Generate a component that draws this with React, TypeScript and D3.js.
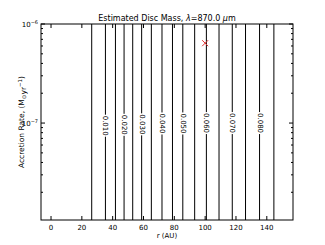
import React from "react";
import * as d3 from "d3";

const W = 325, H = 245;
const M = { left: 41, right: 293, top: 24, bottom: 220 };

// contour levels (disc mass) and their radius positions (AU)
const levels = [0.005, 0.010, 0.015, 0.020, 0.025, 0.030, 0.035, 0.040, 0.045, 0.050, 0.055, 0.060, 0.065, 0.070, 0.075, 0.080, 0.085];
const levelR = [26.4, 35.3, 41.8, 47.4, 53.0, 58.8, 65.1, 72.0, 78.8, 85.5, 93.2, 100.8, 109.0, 117.6, 126.2, 135.3, 144.6];
const labelled = [0.010, 0.020, 0.030, 0.040, 0.050, 0.060, 0.070, 0.080];
const labelRate = [0.94e-7, 0.96e-7, 0.97e-7, 0.99e-7, 0.99e-7, 1.0e-7, 1.0e-7, 1.0e-7];

const xTicks = [0, 20, 40, 60, 80, 100, 120, 140];
const yMajor = [1e-6, 1e-7];
const yMajorExp = ["−6", "−7"];

const markerR = [100];
const markerRate = [6.4e-7];

const xDomain = [-6.5, 157];
const yDomain = [1.05e-8, 1e-6];

export default function App() {
  const x = d3.scaleLinear().domain(xDomain).range([M.left, M.right]);
  const y = d3.scaleLog().domain(yDomain).range([M.bottom, M.top]);
  const font = "DejaVu Sans";
  const yMinor: number[] = [];
  for (const dec of [1e-8, 1e-7]) {
    for (let k = 2; k <= 9; k++) {
      const v = k * dec;
      if (v >= yDomain[0] && v <= yDomain[1]) yMinor.push(v);
    }
  }
  const lab = levels.map((lv, i) => {
    const li = labelled.findIndex((l) => Math.abs(l - lv) < 1e-9);
    return { lv, r: levelR[i], li };
  });
  const line = d3.line<[number, number]>().x((d) => d[0]).y((d) => d[1]);
  return (
    <svg width={W} height={H} style={{ position: "absolute", left: 0, top: 0, background: "#fff" }} fontFamily={font}>
      <rect x={0} y={0} width={W} height={H} fill="#fff" />
      {/* contour lines */}
      {lab.map((c, i) => {
        const px = x(c.r);
        if (c.li < 0) {
          return <path key={i} d={line([[px, M.top], [px, M.bottom]]) || ""} stroke="#000" strokeWidth={1} fill="none" />;
        }
        const cy = y(labelRate[c.li]);
        const half = 11;
        const txt = labelled[c.li].toFixed(3);
        return (
          <g key={i}>
            <path d={line([[px, M.top], [px, cy - half]]) || ""} stroke="#000" strokeWidth={1} fill="none" />
            <path d={line([[px, cy + half], [px, M.bottom]]) || ""} stroke="#000" strokeWidth={1} fill="none" />
            <text x={px} y={cy} transform={`rotate(90 ${px} ${cy})`} textAnchor="middle" dominantBaseline="central" fontSize={7}>{txt}</text>
          </g>
        );
      })}
      {/* marker */}
      {markerR.map((r, i) => {
        const px = x(r), py = y(markerRate[i]), s = 3;
        return (
          <g key={i} stroke="#e03030" strokeWidth={1}>
            <line x1={px - s} y1={py - s} x2={px + s} y2={py + s} />
            <line x1={px - s} y1={py + s} x2={px + s} y2={py - s} />
          </g>
        );
      })}
      {/* ticks */}
      {xTicks.map((t) => (
        <g key={t}>
          <line x1={x(t)} x2={x(t)} y1={M.bottom} y2={M.bottom - 4} stroke="#000" />
          <line x1={x(t)} x2={x(t)} y1={M.top} y2={M.top + 4} stroke="#000" />
          <text x={x(t)} y={M.bottom + 10} textAnchor="middle" fontSize={7}>{t}</text>
        </g>
      ))}
      {yMinor.map((v, i) => (
        <g key={i}>
          <line x1={M.left} x2={M.left + 2} y1={y(v)} y2={y(v)} stroke="#000" />
          <line x1={M.right} x2={M.right - 2} y1={y(v)} y2={y(v)} stroke="#000" />
        </g>
      ))}
      {yMajor.map((v, i) => (
        <g key={i}>
          <line x1={M.left} x2={M.left + 4} y1={y(v)} y2={y(v)} stroke="#000" />
          <line x1={M.right} x2={M.right - 4} y1={y(v)} y2={y(v)} stroke="#000" />
          <text x={M.left - 3} y={y(v) + 2.5} textAnchor="end" fontSize={7}>
            10<tspan dy={-3} fontSize={5}>{yMajorExp[i]}</tspan>
          </text>
        </g>
      ))}
      {/* frame */}
      <rect x={M.left} y={M.top} width={M.right - M.left} height={M.bottom - M.top} fill="none" stroke="#000" strokeWidth={1} />
      {/* title */}
      <text x={(M.left + M.right) / 2} y={M.top - 3} textAnchor="middle" fontSize={8}>
        Estimated Disc Mass, <tspan fontStyle="italic">λ</tspan>=870.0 <tspan fontStyle="italic">μ</tspan>m
      </text>
      {/* axis labels */}
      <text x={(M.left + M.right) / 2} y={M.bottom + 18} textAnchor="middle" fontSize={7}>r (AU)</text>
      <text transform={`translate(24 ${(M.top + M.bottom) / 2}) rotate(-90)`} textAnchor="middle" fontSize={7.5}>
        Accretion Rate, (M<tspan dy={1.5} fontSize={5.5}>⊙</tspan><tspan dy={0}>yr</tspan><tspan dy={-4} fontSize={5.5}>−1</tspan><tspan dy={2.5}>)</tspan>
      </text>
    </svg>
  );
}
